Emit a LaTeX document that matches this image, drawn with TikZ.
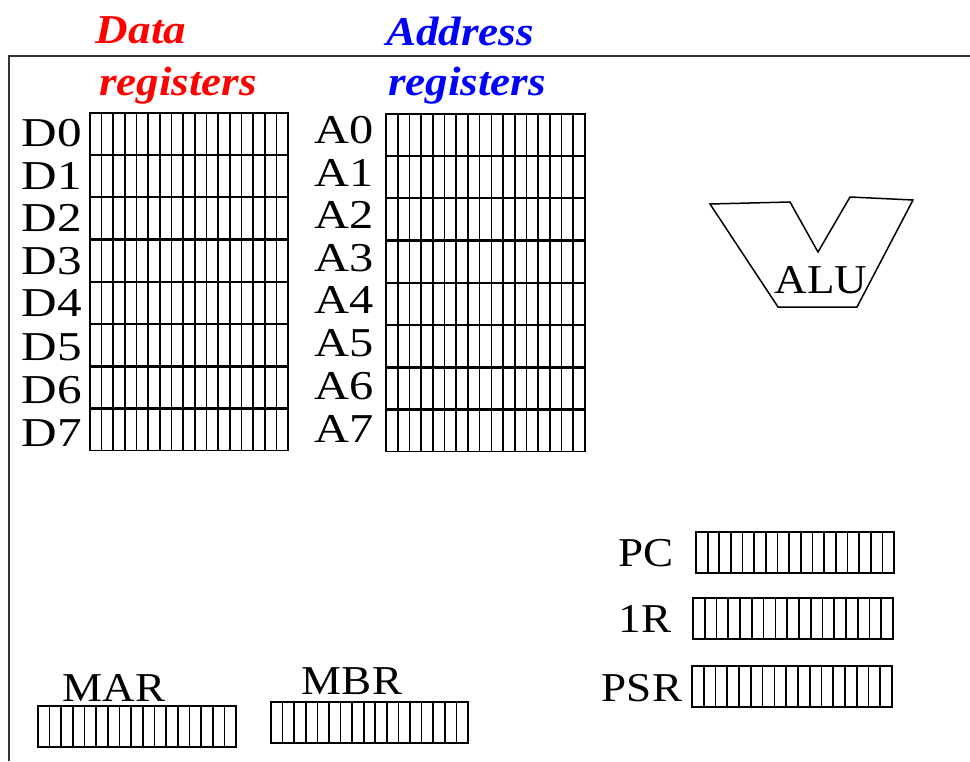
\documentclass[tikz,border=0pt]{standalone}
\usepackage{fontspec}
\usepackage{graphicx}
\setmainfont{Liberation Serif}
\usetikzlibrary{calc}
\newcommand\wtxt[2][1.1]{\scalebox{#1}[1]{#2}}
\tikzset{
  reg/.style={draw, line width=1.7pt, minimum width=198pt, minimum height=41pt,
    inner sep=0pt, outer sep=0pt, anchor=north west,
    path picture={
      \path (path picture bounding box.south west) coordinate (pp-sw)
            (path picture bounding box.north east) coordinate (pp-ne);
      \foreach \i in {1,...,16}
        \draw[line width=1.7pt] ($(pp-sw)!\i/17!(pp-sw-|pp-ne)$) -- ($(pp-sw|-pp-ne)!\i/17!(pp-ne)$);
    }},
  lab/.style={font=\fontsize{41}{41}\selectfont, inner sep=0pt, text=black},
  head/.style={font=\fontsize{41}{41}\selectfont\bfseries\itshape, inner sep=0pt, anchor=base},
  frame/.style={line width=1.8pt, draw=black!80}
}
\begin{document}
\begin{tikzpicture}[x=1pt,y=-1pt]
\useasboundingbox (0,0) rectangle (970,761);
% frame
\coordinate (fr-tr) at (970,56);
\coordinate (fr-tl) at (9,56);
\coordinate (fr-bl) at (9,761);
\draw[frame] (fr-tr) -- (fr-tl) -- (fr-bl);
% headers
\node[head, text=red] (hdata) at (141,43) {\wtxt{Data}};
\node[head, text=red] (hdreg) at (178,95) {\wtxt{registers}};
\node[head, text=blue] (haddr) at (460,45) {\wtxt{Address}};
\node[head, text=blue] (hareg) at (467,95) {\wtxt{registers}};
% data registers
\foreach \k in {0,...,7} {
  \node[reg, minimum height=41.5pt] (D\k) at (90,{113+\k*42.3}) {};
}
\foreach \k/\yy in {0/133,1/176,2/218,3/261,4/303,5/347,6/390,7/433} {
  \node[lab] (LD\k) at (52,\yy) {\wtxt[1.2]{D\k}};
}
% address registers
\foreach \k in {0,...,7} {
  \node[reg, minimum width=199pt, minimum height=41.5pt] (A\k) at (386,{114+\k*42.3}) {};
}
\foreach \k/\yy in {0/130,1/173,2/215,3/258,4/300,5/343,6/386,7/429} {
  \node[lab] (LA\k) at (344,\yy) {\wtxt[1.18]{A\k}};
}
% ALU
\coordinate (alu1) at (710,204);
\coordinate (alu2) at (790,202);
\coordinate (alu3) at (818,252);
\coordinate (alu4) at (850,197);
\coordinate (alu5) at (913,200);
\coordinate (alu6) at (857,307);
\coordinate (alu7) at (778,307);
\draw[line width=1.5pt] (alu1) -- (alu2) -- (alu3) -- (alu4) -- (alu5) -- (alu6) -- (alu7) -- cycle;
\node[lab] (alu) at (821,280) {\wtxt{ALU}};
% PC, IR, PSR
\node[reg] (PC) at (696,532) {};
\node[lab] (lPC) at (646,553) {\wtxt{PC}};
\node[reg, minimum width=200pt] (IR) at (693,598) {};
\node[lab] (lIR) at (645,619) {\wtxt{1R}};
\node[reg, minimum width=200pt] (PSR) at (692,666) {};
\node[lab] (lPSR) at (642,688) {\wtxt{PSR}};
% MAR, MBR
\node[reg] (MAR) at (38,706) {};
\node[lab] (lMAR) at (114,688) {\wtxt{MAR}};
\node[reg, minimum width=197pt] (MBR) at (271,702) {};
\node[lab] (lMBR) at (352,681) {\wtxt{MBR}};
\end{tikzpicture}
\end{document}
